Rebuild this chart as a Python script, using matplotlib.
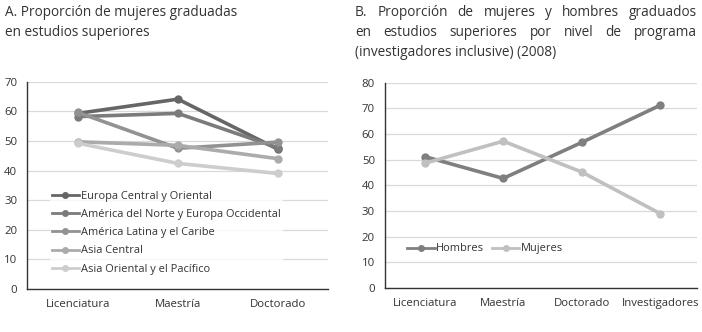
import matplotlib

matplotlib.use("Agg")
import matplotlib.pyplot as plt

plt.rcParams["font.family"] = ["Open Sans", "DejaVu Sans"]

# Panel A data
cats_a = ["Licenciatura", "Maestría", "Doctorado"]
europa_central = [59.3, 64.1, 47.2]
america_norte = [58.2, 59.3, 47.7]
america_latina = [59.6, 47.5, 49.6]
asia_central = [49.7, 48.5, 44.0]
asia_oriental = [49.2, 42.4, 39.0]

series_a = [
    ("Europa Central y Oriental", europa_central, "#666666"),
    ("América del Norte y Europa Occidental", america_norte, "#7b7b7b"),
    ("América Latina y el Caribe", america_latina, "#929292"),
    ("Asia Central", asia_central, "#ababab"),
    ("Asia Oriental y el Pacífico", asia_oriental, "#cdcdcd"),
]

# Panel B data
cats_b = ["Licenciatura", "Maestría", "Doctorado", "Investigadores"]
hombres = [51.2, 42.7, 56.7, 71.2]
mujeres = [48.6, 57.2, 45.2, 29.0]

title_a = ["A. Proporción de mujeres graduadas", "en estudios superiores"]
title_b = [
    "B. Proporción de mujeres y hombres graduados",
    "en estudios superiores por nivel de programa",
    "(investigadores inclusive) (2008)",
]

_AXIS = "#333333"
_GRID = "#d9d9d9"
_TEXT = "#333333"
_W, _H = 702, 332


def _style(ax, ymax):
    ax.set_ylim(0, ymax)
    ax.set_yticks(range(0, ymax + 1, 10))
    ax.yaxis.grid(True, color=_GRID, linewidth=0.9)
    ax.set_axisbelow(True)
    for side in ("top", "right"):
        ax.spines[side].set_visible(False)
    for side in ("left", "bottom"):
        ax.spines[side].set_color(_AXIS)
        ax.spines[side].set_linewidth(1.0)
    ax.tick_params(length=0, labelsize=8.2, colors=_TEXT, pad=7)


def _legend(ax, **kw):
    leg = ax.legend(frameon=True, fontsize=7.9, handlelength=2.5,
                    handletextpad=0.15, borderpad=0.2, borderaxespad=0, **kw)
    leg.get_frame().set_facecolor("white")
    leg.get_frame().set_edgecolor("none")
    for t in leg.get_texts():
        t.set_color(_TEXT)
    for h in leg.legend_handles:
        h.set_linewidth(2.0)
        h.set_markersize(4)
    return leg


def _title(fig, lines, x0, x1, y0, step, justify):
    # draw title lines; justified lines spread words between x0 and x1 (pixels)
    renderer = fig.canvas.get_renderer()
    for i, line in enumerate(lines):
        y = 1 - (y0 + i * step) / _H
        if not justify[i]:
            fig.text(x0 / _W, y, line, ha="left", va="center",
                     fontsize=9.8, color=_TEXT)
            continue
        words = line.split(" ")
        arts = [fig.text(0, y, w, ha="left", va="center", fontsize=9.8,
                         color=_TEXT) for w in words]
        widths = [a.get_window_extent(renderer).width for a in arts]
        gap = (x1 - x0 - sum(widths)) / (len(words) - 1)
        x = x0
        for a, w in zip(arts, widths):
            a.set_x(x / _W)
            x += w + gap


fig = plt.figure(figsize=(7.02, 3.32), dpi=100)
fig.patch.set_facecolor("white")

# Panel A
ax1 = fig.add_axes([0.0385, 0.1295, 0.4285, 0.6245])
xa = range(len(cats_a))
for label, vals, color in series_a:
    ax1.plot(xa, vals, color=color, linewidth=2.6, marker="o", markersize=5,
             label=label)
ax1.set_xticks(list(xa))
ax1.set_xticklabels(cats_a)
ax1.set_xlim(-0.51, 2.5)
_style(ax1, 70)
_legend(ax1, loc="upper left", bbox_to_anchor=(0.075, 0.485),
        labelspacing=0.66)

# Panel B
ax2 = fig.add_axes([0.548, 0.1325, 0.445, 0.6185])
xb = range(len(cats_b))
ax2.plot(xb, hombres, color="#7f7f7f", linewidth=2.6, marker="o", markersize=5,
         label="Hombres")
ax2.plot(xb, mujeres, color="#c0c0c0", linewidth=2.6, marker="o", markersize=5,
         label="Mujeres")
ax2.set_xticks(list(xb))
ax2.set_xticklabels(cats_b)
ax2.set_xlim(-0.51, 3.47)
_style(ax2, 80)
_legend(ax2, loc="upper left", bbox_to_anchor=(0.065, 0.228), ncol=2,
        columnspacing=0.7)

# Titles
_title(fig, title_a, 5, 0, 12, 20.5, [False, False])
_title(fig, title_b, 355, 697, 12, 20.5, [True, True, False])

fig.savefig("out.png", dpi=100, facecolor="white")
